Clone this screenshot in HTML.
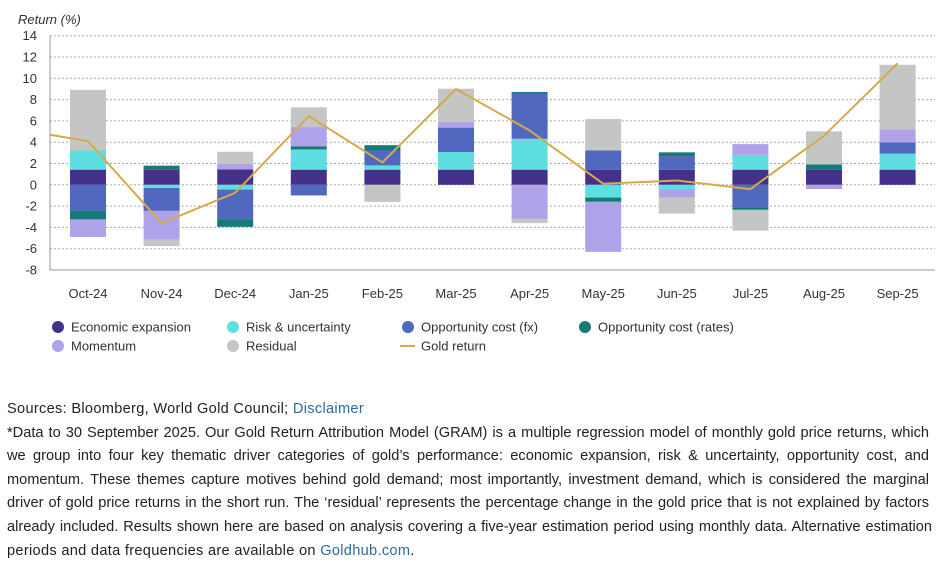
<!DOCTYPE html>
<html><head><meta charset="utf-8"><style>
body{margin:0;background:#fff;width:948px;height:566px;overflow:hidden;font-family:"Liberation Sans",sans-serif;}
#chart{position:absolute;left:0;top:0}
.notes{position:absolute;left:7px;top:398px;width:922px;font-size:14.6px;line-height:23.6px;color:#222;}
.notes div{white-space:nowrap}
.notes .j{text-align:justify;text-align-last:justify;white-space:normal}
.notes a{color:#2b6c9e;text-decoration:none}
</style></head><body>
<svg id="chart" width="948" height="370" xmlns="http://www.w3.org/2000/svg"></svg>
<div class="notes">
<div style="letter-spacing:0.3px">Sources: Bloomberg, World Gold Council; <a>Disclaimer</a></div>
<div class="j">*Data to 30 September 2025. Our Gold Return Attribution Model (GRAM) is a multiple regression model of monthly gold price returns, which</div>
<div class="j">we group into four key thematic driver categories of gold’s performance: economic expansion, risk &amp; uncertainty, opportunity cost, and</div>
<div class="j">momentum. These themes capture motives behind gold demand; most importantly, investment demand, which is considered the marginal</div>
<div class="j">driver of gold price returns in the short run. The ‘residual’ represents the percentage change in the gold price that is not explained by factors</div>
<div class="j" style="width:925px">already included. Results shown here are based on analysis covering a five-year estimation period using monthly data. Alternative estimation</div>
<div style="letter-spacing:0.3px">periods and data frequencies are available on <a>Goldhub.com</a>.</div>
</div>
<script>
const categories=["Oct-24","Nov-24","Dec-24","Jan-25","Feb-25","Mar-25","Apr-25","May-25","Jun-25","Jul-25","Aug-25","Sep-25"];
const econ=[1.42,1.4,1.45,1.42,1.42,1.42,1.42,1.42,1.4,1.42,1.42,1.42];
const risk=[1.8,-0.3,-0.45,1.9,0.4,1.65,2.9,-1.2,-0.4,1.4,0,1.5];
const oppFx=[-2.4,-2.15,-2.8,-1.0,1.4,2.3,4.3,1.8,1.3,-2.1,0,1.05];
const oppRates=[-0.85,0.4,-0.7,0.3,0.5,0,0.1,-0.4,0.35,-0.25,0.5,0];
const momentum=[-1.65,-2.7,0.5,1.8,0,0.55,-3.2,-4.7,-0.8,1.0,-0.4,1.25];
const residual=[5.7,-0.6,1.15,1.85,-1.6,3.1,-0.4,2.95,-1.5,-1.95,3.1,6.05];
const goldReturn=[4.1,-3.6,-0.75,6.45,2.1,9.0,5.1,0.1,0.4,-0.4,4.6,11.4];
const goldStart=4.7;
const yTicks=[14,12,10,8,6,4,2,0,-2,-4,-6,-8];
const series=[["economic-expansion",econ,"#45318a"],["risk-uncertainty",risk,"#5ddfe2"],["opportunity-cost-fx",oppFx,"#5068bd"],["opportunity-cost-rates",oppRates,"#167a78"],["momentum",momentum,"#b0a2e8"],["residual",residual,"#c3c6c5"]];
const NS="http://www.w3.org/2000/svg";
const svg=document.getElementById("chart");
const L=50,R=935,yTop=35.7,yBot=270,x0=88,step=73.6,bw=36;
const y=v=>yTop+(14-v)*(yBot-yTop)/22;
const x=i=>x0+i*step;
function mk(t,a,p){const e=document.createElementNS(NS,t);for(const k in a)e.setAttribute(k,a[k]);(p||svg).appendChild(e);return e;}
yTicks.forEach(v=>{
 const g=mk("line",{x1:L,x2:R,y1:y(v),y2:y(v),stroke:"#aaa","stroke-dasharray":"2,2","stroke-width":1});
 
 
 const t=mk("text",{x:37,y:y(v)+4.5,"text-anchor":"end","font-size":13,fill:"#333"});t.textContent=v;
 
 
});
const ax=mk("line",{x1:L,x2:L,y1:yTop,y2:yBot,stroke:"#999"});


const bx=mk("line",{x1:L,x2:R,y1:yBot,y2:yBot,stroke:"#999"});


const yl=mk("text",{x:18,y:24,"font-size":13,"font-style":"italic",fill:"#333"});yl.textContent="Return (%)";


categories.forEach((c,i)=>{
 let pos=0,neg=0;
 series.forEach(([n,arr,col])=>{
  const v=arr[i];if(!v)return;
  let a,b;if(v>0){a=pos;b=pos+v;pos=b;}else{a=neg;b=neg+v;neg=b;}
  const r=mk("rect",{x:x(i)-bw/2,y:Math.min(y(a),y(b)),width:bw,height:Math.abs(y(a)-y(b)),fill:col});
  
  
 });
 const t=mk("text",{x:x(i),y:298,"text-anchor":"middle","font-size":13,fill:"#333"});t.textContent=c;
 
 
});
let d="M"+L+","+y(goldStart);
goldReturn.forEach((v,i)=>{d+=" L"+x(i)+","+y(v);});
const ln=mk("path",{d:d,fill:"none",stroke:"#d4aa4a","stroke-width":2});


const leg=[["Economic expansion",58,327,"#45318a"],["Risk & uncertainty",233,327,"#5ddfe2"],["Opportunity cost (fx)",408,327,"#5068bd"],["Opportunity cost (rates)",585,327,"#167a78"],["Momentum",58,346,"#b0a2e8"],["Residual",233,346,"#c3c6c5"]];
leg.forEach(([t,lx,ly,c])=>{
 const g=mk("g",{});
 
 
 mk("circle",{cx:lx,cy:ly,r:6,fill:c},g);
 const tx=mk("text",{x:lx+13,y:ly+4.5,"font-size":13,fill:"#333"},g);tx.textContent=t;
});
const gg=mk("g",{});


mk("line",{x1:400,x2:415,y1:346,y2:346,stroke:"#d4aa4a","stroke-width":2},gg);
const gt=mk("text",{x:421,y:350.5,"font-size":13,fill:"#333"},gg);gt.textContent="Gold return";
</script>
</body></html>
